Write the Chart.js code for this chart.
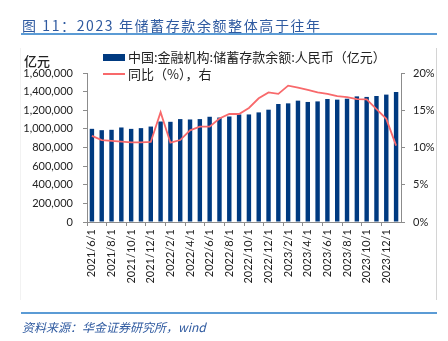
<!DOCTYPE html>
<html>
<head>
<meta charset="utf-8">
<script src="https://cdn.jsdelivr.net/npm/chart.js@4/dist/chart.umd.min.js"></script>
<style>
  html, body { margin: 0; padding: 0; background: #fff; }
  #wrap { position: relative; width: 448px; height: 341px; overflow: hidden; background: #fff; }
  #c { position: absolute; left: 0; top: 0; }
  .t { position: absolute; white-space: nowrap; font-family: "Noto Sans CJK SC", "Noto Sans", sans-serif; }
  #title { left: 22px; top: 15px; font-size: 14px; line-height: 20px; color: #2F5AA0; letter-spacing: 1.6px; }
  #tline { position: absolute; left: 21px; top: 33px; width: 416px; height: 2px; background: #5B9BD5; }
  #fline { position: absolute; left: 21px; top: 312px; width: 416px; height: 2px; background: #5B9BD5; }
  #src { left: 22px; top: 318px; font-size: 12px; line-height: 17px; color: #2F5AA0; font-style: italic; }
  #unit { left: 24px; top: 52px; font-size: 13px; line-height: 18px; color: #222; font-weight: 500; }
  #bl { position: absolute; left: 20px; top: 48px; width: 1px; height: 252px; background: #F2F2F2; }
  #br { position: absolute; left: 436px; top: 48px; width: 1px; height: 252px; background: #D4D4D4; }
  .lg { font-size: 13px; line-height: 16px; color: #222; }
  .sw { position: absolute; }
</style>
</head>
<body>
<div id="wrap">
  <canvas id="c" width="448" height="341"></canvas>
  <div id="bl"></div><div id="br"></div>
  <div id="title" class="t">图 11：2023 年储蓄存款余额整体高于往年</div>
  <div id="tline"></div>
  <div id="unit" class="t">亿元</div>
  <div class="sw" style="left:103px;top:54px;width:22px;height:7px;background:#003A80;"></div>
  <div class="t lg" style="left:128px;top:49px;">中国:金融机构:储蓄存款余额:人民币（亿元）</div>
  <div class="sw" style="left:103px;top:73px;width:22px;height:2px;background:#F8696B;"></div>
  <div class="t lg" style="left:128px;top:66px;">同比（%），右</div>
  <div id="fline"></div>
  <div id="src" class="t">资料来源：华金证券研究所，wind</div>
</div>
<script>
const categories = [
  "2021/6/1","2021/7/1","2021/8/1","2021/9/1","2021/10/1","2021/11/1","2021/12/1",
  "2022/1/1","2022/2/1","2022/3/1","2022/4/1","2022/5/1","2022/6/1","2022/7/1","2022/8/1",
  "2022/9/1","2022/10/1","2022/11/1","2022/12/1","2023/1/1","2023/2/1","2023/3/1","2023/4/1",
  "2023/5/1","2023/6/1","2023/7/1","2023/8/1","2023/9/1","2023/10/1","2023/11/1","2023/12/1","2024/1/1"
];
const deposits = [
  1000500, 986000, 990000, 1015000, 1000000, 1008000, 1025000,
  1079000, 1076000, 1105000, 1101000, 1105000, 1130000, 1122000, 1133000,
  1155000, 1155000, 1177000, 1206000, 1267000, 1274000, 1303000, 1289000,
  1295000, 1321000, 1314000, 1324000, 1349000, 1343000, 1353000, 1368000, 1397000
];
const yoyPct = [
  11.55, 11.0, 10.9, 10.8, 10.7, 10.7, 10.75,
  14.75, 10.65, 11.0, 12.3, 12.8, 12.8, 13.9, 14.5,
  14.5, 15.3, 16.6, 17.4, 17.2, 18.3, 18.05, 17.75,
  17.4, 17.2, 16.9, 16.75, 16.5, 16.45, 15.15, 13.85, 10.25
];
const leftTicks = { min: 0, max: 1600000, step: 200000 };
const rightTicks = { min: 0, max: 20, step: 5 };

const axisColor = '#8C8C8C';
const tickFont = { family: 'Lato, "Liberation Sans", sans-serif', size: 11 };

new Chart(document.getElementById('c'), {
  data: {
    labels: categories,
    datasets: [
      {
        type: 'line', label: '同比（%），右', data: yoyPct, yAxisID: 'y1',
        borderColor: '#F8696B', borderWidth: 1.8, pointRadius: 0, tension: 0, order: 0
      },
      {
        type: 'bar', label: '中国:金融机构:储蓄存款余额:人民币（亿元）', data: deposits, yAxisID: 'y',
        backgroundColor: '#003A80', barPercentage: 0.45, categoryPercentage: 1, order: 1
      }
    ]
  },
  options: {
    responsive: false, animation: false, devicePixelRatio: 1,
    layout: { padding: { left: 0, right: 0, top: 73, bottom: 0 } },
    plugins: { legend: { display: false }, tooltip: { enabled: false } },
    scales: {
      x: {
        offset: true,
        grid: {
          offset: true, drawOnChartArea: false, drawTicks: true, tickLength: 4,
          tickColor: (ctx) => (ctx.index % 2 === 0 ? axisColor : 'rgba(0,0,0,0)')
        },
        border: { color: axisColor, width: 1 },
        ticks: {
          autoSkip: false, maxRotation: 90, minRotation: 90, padding: 3,
          color: '#222', font: tickFont,
          callback: function (v, i) { return i % 2 === 0 ? this.getLabelForValue(v) : ''; }
        },
        afterFit: (s) => { s.height = 341 - 222; }
      },
      y: {
        position: 'left', min: leftTicks.min, max: leftTicks.max,
        grid: { drawOnChartArea: false, drawTicks: true, tickLength: 4, tickColor: axisColor },
        border: { color: axisColor, width: 1 },
        ticks: {
          stepSize: leftTicks.step, padding: 10, color: '#222', font: tickFont,
          callback: (v) => v.toLocaleString('en-US')
        },
        afterFit: (s) => { s.width = 87; }
      },
      y1: {
        position: 'right', min: rightTicks.min, max: rightTicks.max,
        grid: { drawOnChartArea: false, drawTicks: true, tickLength: 4, tickColor: axisColor },
        border: { color: axisColor, width: 1 },
        ticks: {
          stepSize: rightTicks.step, padding: 8, color: '#222', font: tickFont,
          callback: (v) => v + '%'
        },
        afterFit: (s) => { s.width = 47; }
      }
    }
  }
});
</script>
</body>
</html>
